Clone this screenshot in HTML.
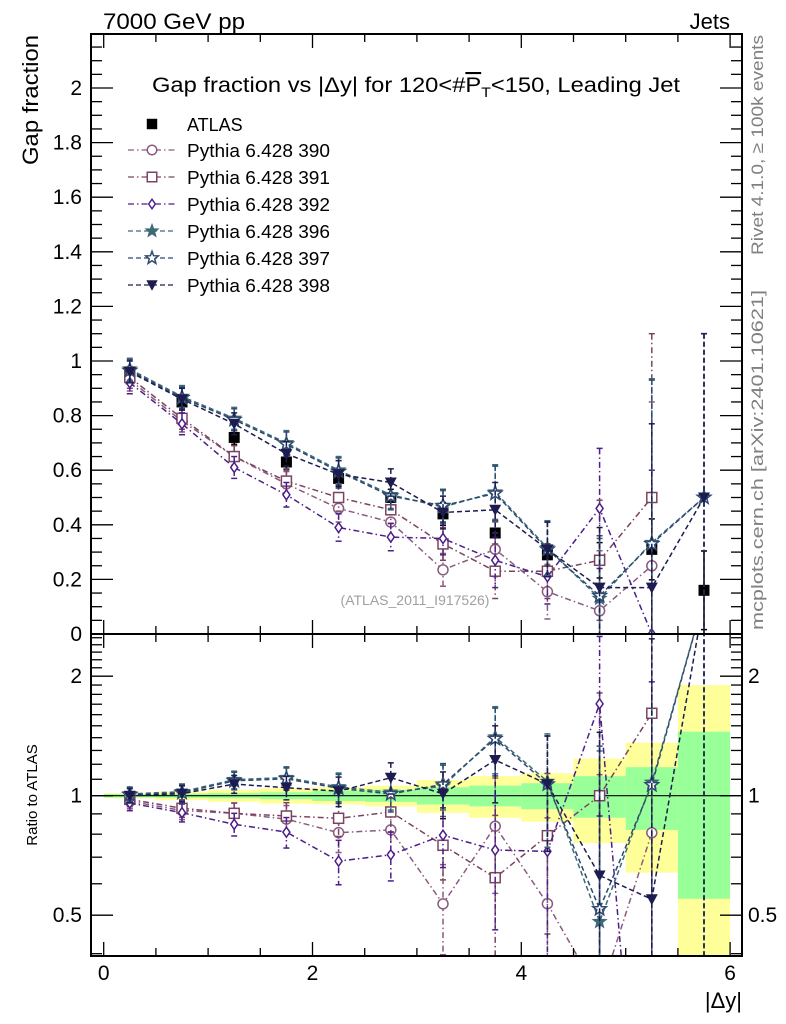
<!DOCTYPE html>
<html><head><meta charset="utf-8">
<style>
html,body{margin:0;padding:0;background:#fff;overflow:hidden;width:786px;height:1024px;}
svg{display:block;font-family:"Liberation Sans",Arial,sans-serif;}
</style></head>
<body>
<svg id="chart" width="786" height="1024" viewBox="0 0 786 1024" xmlns="http://www.w3.org/2000/svg">
  <text x="103" y="29" font-size="22" textLength="142" lengthAdjust="spacingAndGlyphs">7000 GeV pp</text>
  <text x="730" y="29" font-size="22" text-anchor="end">Jets</text>
  <text transform="translate(38,35) rotate(-90)" font-size="22" text-anchor="end" textLength="130" lengthAdjust="spacingAndGlyphs">Gap fraction</text>
  <text transform="translate(37,795) rotate(-90)" font-size="15" text-anchor="middle">Ratio to ATLAS</text>
  <text transform="translate(763,35) rotate(-90)" font-size="17" fill="#808080" text-anchor="end" textLength="220" lengthAdjust="spacingAndGlyphs">Rivet 4.1.0, ≥ 100k events</text>
  <text transform="translate(763,630) rotate(-90)" font-size="17" fill="#808080" textLength="340" lengthAdjust="spacingAndGlyphs">mcplots.cern.ch [arXiv:2401.10621]</text>
  <text x="152" y="92" font-size="21" textLength="528" lengthAdjust="spacingAndGlyphs">Gap fraction vs |Δy| for 120&lt;#<tspan text-decoration="overline">P</tspan><tspan font-size="14" dy="5">T</tspan><tspan dy="-5">&lt;150, Leading Jet</tspan></text>
  <text x="415" y="605" font-size="14" fill="#a0a0a0" text-anchor="middle">(ATLAS_2011_I917526)</text>
  <text x="742" y="1008" font-size="22" text-anchor="end">|Δy|</text>
  <g id="bands"></g>
  <g id="marks"></g>
  <g id="axes"></g>
  <g id="legend"></g>
</svg>
<script>
// ---- data ----
const xCenters = [0.25,0.75,1.25,1.75,2.25,2.75,3.25,3.75,4.25,4.75,5.25,5.75];
const atlasVals = [0.96,0.85,0.72,0.63,0.57,0.50,0.44,0.37,0.29,0.27,0.31,0.16];
const statRel = [0.010,0.012,0.015,0.02,0.03,0.035,0.05,0.06,0.075,0.12,0.18,0.45];
const totRel = [0.015,0.025,0.035,0.045,0.05,0.06,0.095,0.12,0.14,0.24,0.36,0.9];
const vals390 = [0.93,0.78,0.65,0.55,0.46,0.41,0.235,0.31,0.155,0.085,0.25];
const vals391 = [0.94,0.79,0.65,0.56,0.50,0.455,0.33,0.23,0.23,0.27,0.50];
const vals392 = [0.92,0.77,0.61,0.51,0.39,0.355,0.35,0.27,0.21,0.46,0.0];
const vals396 = [0.97,0.87,0.79,0.70,0.60,0.51,0.465,0.52,0.315,0.13,0.335,0.5];
const vals397 = [0.965,0.865,0.785,0.695,0.595,0.505,0.47,0.515,0.31,0.14,0.33,0.5];
const vals398 = [0.96,0.86,0.77,0.66,0.585,0.555,0.445,0.455,0.31,0.17,0.17,0.5];
const mcErr = [0.04,0.04,0.04,0.045,0.05,0.05,0.06,0.1,0.1,0.22,0.6,0.6];
const seriesNames = ["Pythia 6.428 390","Pythia 6.428 391","Pythia 6.428 392","Pythia 6.428 396","Pythia 6.428 397","Pythia 6.428 398"];
const yTicksMain = [0,0.2,0.4,0.6,0.8,1,1.2,1.4,1.6,1.8,2];
const yTickLabelsMain = ["0","0.2","0.4","0.6","0.8","1","1.2","1.4","1.6","1.8","2"];
const xTicks = [0,2,4,6];
const ratioTicks = [0.5,1,2];
const ratioTickLabels = ["0.5","1","2"];

const NS="http://www.w3.org/2000/svg";
const L=91,R=742,T=34,MB=634,RB=956;
const sx=v=>103.7+v*104.4;
const sy=v=>634-v*273;
const sr=v=>795.7-Math.log10(v)*397;
function mk(tag,attrs,parent){const e=document.createElementNS(NS,tag);for(const k in attrs)e.setAttribute(k,attrs[k]);parent.appendChild(e);return e;}
const bands=document.getElementById('bands'),marks=document.getElementById('marks'),axes=document.getElementById('axes'),legend=document.getElementById('legend');

const defs=mk('defs',{},document.getElementById('chart'));
const c1=mk('clipPath',{id:'cm'},defs);mk('rect',{x:L,y:T,width:R-L,height:MB-T},c1);
const c2=mk('clipPath',{id:'cr'},defs);mk('rect',{x:L,y:MB,width:R-L,height:RB-MB},c2);
bands.setAttribute('clip-path','url(#cr)');

xCenters.forEach((x,i)=>{
  const x0=sx(x-0.25),x1=sx(x+0.25);
  const ylo=Math.max(1-totRel[i],0.3), yhi=1+totRel[i];
  const y=mk('rect',{x:x0,y:sr(yhi),width:x1-x0,height:sr(ylo)-sr(yhi),fill:'#ffff99'},bands);
  
  
  const g=mk('rect',{x:x0,y:sr(1+statRel[i]),width:x1-x0,height:sr(1-statRel[i])-sr(1+statRel[i]),fill:'#99ff99'},bands);
  
  
});
const one=mk('line',{x1:L,x2:R,y1:sr(1),y2:sr(1),stroke:'#000','stroke-width':1.2},bands);



const styles=[
 {v:vals390,c:'#8a5a80',d:'6,3,1.5,3',m:'circle'},
 {v:vals391,c:'#7a4460',d:'6,3,1.5,3',m:'square'},
 {v:vals392,c:'#4b1f8a',d:'6,3,1.5,3',m:'diamond'},
 {v:vals396,c:'#3e6a78',d:'5,3',m:'fstar'},
 {v:vals397,c:'#2e4a70',d:'5,3',m:'ostar'},
 {v:vals398,c:'#1c1c50',d:'5,3',m:'tri'}
];
function starPts(cx,cy,r){let p=[];for(let k=0;k<10;k++){const a=-Math.PI/2+k*Math.PI/5,rr=k%2?r*0.42:r;p.push((cx+rr*Math.cos(a)).toFixed(1)+','+(cy+rr*Math.sin(a)).toFixed(1));}return p.join(' ');}
function marker(type,cx,cy,c,parent,s){
  s=s||1;let e;
  if(type==='circle')e=mk('circle',{cx,cy,r:5*s,fill:'#fff',stroke:c,'stroke-width':1.5},parent);
  else if(type==='square')e=mk('rect',{x:cx-5*s,y:cy-5*s,width:10*s,height:10*s,fill:'#fff',stroke:c,'stroke-width':1.5},parent);
  else if(type==='diamond')e=mk('polygon',{points:`${cx},${cy-5*s} ${cx+3.5*s},${cy} ${cx},${cy+5*s} ${cx-3.5*s},${cy}`,fill:'#fff',stroke:c,'stroke-width':1.5},parent);
  else if(type==='fstar')e=mk('polygon',{points:starPts(cx,cy,7*s),fill:c,stroke:c},parent);
  else if(type==='ostar')e=mk('polygon',{points:starPts(cx,cy,7*s),fill:'#fff',stroke:c,'stroke-width':1.5},parent);
  else if(type==='tri')e=mk('polygon',{points:`${cx-6*s},${cy-5*s} ${cx+6*s},${cy-5*s} ${cx},${cy+6*s}`,fill:c},parent);
  else if(type==='fsq')e=mk('rect',{x:cx-5.5*s,y:cy-5.5*s,width:11*s,height:11*s,fill:'#000'},parent);
  return e;
}
function errbar(cx,y1,y2,c,dash,parent){
  const g=mk('g',{},parent);
  mk('line',{x1:cx,x2:cx,y1,y2,stroke:c,'stroke-width':1.5,'stroke-dasharray':dash},g);
  mk('line',{x1:cx-3,x2:cx+3,y1,y2:y1,stroke:c,'stroke-width':1.5},g);
  mk('line',{x1:cx-3,x2:cx+3,y1:y2,y2:y2,stroke:c,'stroke-width':1.5},g);
  return g;
}
const gm=mk('g',{'clip-path':'url(#cm)'},marks);
const gr=mk('g',{'clip-path':'url(#cr)'},marks);
atlasVals.forEach((v,i)=>{
  const cx=sx(xCenters[i]);
  errbar(cx,sy(v*(1+totRel[i])),sy(v*(1-totRel[i])),'#000','none',gm);
  const m=marker('fsq',cx,sy(v),'#000',gm);
  
  
});
styles.forEach((st,si)=>{
  const pts=st.v.map((v,i)=>sx(xCenters[i]).toFixed(1)+','+sy(v).toFixed(1)).join(' ');
  const ln=mk('polyline',{points:pts,fill:'none',stroke:st.c,'stroke-width':1.5,'stroke-dasharray':st.d},gm);
  
  
  const rp=st.v.map((v,i)=>sx(xCenters[i]).toFixed(1)+','+sr(Math.max(v/atlasVals[i],0.05)).toFixed(1)).join(' ');
  const rl=mk('polyline',{points:rp,fill:'none',stroke:st.c,'stroke-width':1.5,'stroke-dasharray':st.d},gr);
  
  
  st.v.forEach((v,i)=>{
    const cx=sx(xCenters[i]);
    errbar(cx,sy(v+mcErr[i]),sy(Math.max(v-mcErr[i],0)),st.c,st.d,gm);
    const m=marker(st.m,cx,sy(v),st.c,gm);
    
    
    const r=v/atlasVals[i],re=mcErr[i]/atlasVals[i];
    errbar(cx,sr(r+re),sr(Math.max(r-re,0.05)),st.c,st.d,gr);
    const m2=marker(st.m,cx,sr(Math.max(r,0.05)),st.c,gr);
    
    
  });
});

const fr=mk('rect',{x:L,y:T,width:R-L,height:RB-T,fill:'none',stroke:'#000','stroke-width':2},axes);


mk('line',{x1:L,x2:R,y1:MB,y2:MB,stroke:'#000','stroke-width':2},axes);
for(let k=0;k<=12;k++){
  const v=k*0.5,x=sx(v),maj=(k%4===0),len=maj?14:8;
  [[T,1],[MB,-1],[MB,1],[RB,-1]].forEach(([y,d])=>mk('line',{x1:x,x2:x,y1:y,y2:y+d*len,stroke:'#000','stroke-width':1.3},axes));
}
xTicks.forEach(v=>{const t=mk('text',{x:sx(v),y:980,'font-size':21,'text-anchor':'middle'},axes);t.textContent=String(v);
  
  });
for(let k=1;k<=43;k++){
  const v=k*0.05,y=sy(v);if(y<T)break;const maj=(k%4===0),len=maj?22:11;
  mk('line',{x1:L,x2:L+len,y1:y,y2:y,stroke:'#000','stroke-width':1.3},axes);
  mk('line',{x1:R,x2:R-len,y1:y,y2:y,stroke:'#000','stroke-width':1.3},axes);
}
yTicksMain.forEach((v,i)=>{const t=mk('text',{x:82,y:sy(v)+7,'font-size':21,'text-anchor':'end'},axes);t.textContent=yTickLabelsMain[i];
  
  });
const rt=[0.4,0.5,0.6,0.7,0.8,0.9,1,1.1,1.2,1.3,1.4,1.5,1.6,1.7,1.8,1.9,2,2.1,2.2,2.3,2.4,2.5];
rt.forEach(v=>{const y=sr(v);if(y<MB||y>RB)return;const maj=ratioTicks.includes(v),len=maj?22:11;
  mk('line',{x1:L,x2:L+len,y1:y,y2:y,stroke:'#000','stroke-width':1.3},axes);
  mk('line',{x1:R,x2:R-len,y1:y,y2:y,stroke:'#000','stroke-width':1.3},axes);});
ratioTicks.forEach((v,i)=>{
  const t=mk('text',{x:82,y:sr(v)+7,'font-size':21,'text-anchor':'end'},axes);t.textContent=ratioTickLabels[i];
  
  
  const t2=mk('text',{x:748,y:sr(v)+7,'font-size':21},axes);t2.textContent=ratioTickLabels[i];
  
  
});

const lg0=mk('g',{},legend);


marker('fsq',152,124,'#000',lg0,0.95);
mk('text',{x:187,y:131,'font-size':18},lg0).textContent='ATLAS';
styles.forEach((st,si)=>{
  const y=150+si*27;
  const g=mk('g',{},legend);
  
  
  mk('line',{x1:128,x2:176,y1:y,y2:y,stroke:st.c,'stroke-width':1.3,'stroke-dasharray':st.d},g);
  marker(st.m,152,y,st.c,g,0.95);
  mk('text',{x:187,y:y+7,'font-size':18,textLength:143,lengthAdjust:'spacingAndGlyphs'},g).textContent=seriesNames[si];
});
</script>
</body></html>
